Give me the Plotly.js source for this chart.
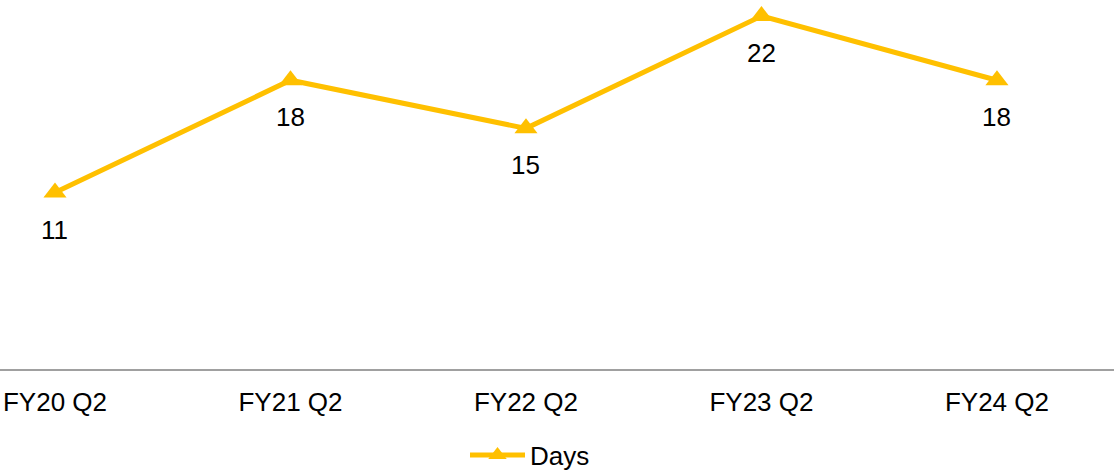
<!DOCTYPE html>
<html>
<head>
<meta charset="utf-8">
<script src="https://cdn.plot.ly/plotly-3.0.1.min.js"></script>
<style>html,body{margin:0;padding:0;background:#fff;}#chart{width:1114px;height:471px;}</style>
</head>
<body>
<div id="chart"></div>
<script>
const categories = ["FY20 Q2", "FY21 Q2", "FY22 Q2", "FY23 Q2", "FY24 Q2"];
const days = [11, 18, 15, 22, 18];
const seriesName = "Days";

const gold = "#FFC000";
const fontFam = "'Liberation Sans', Arial, sans-serif";

const trace = {
  x: categories,
  y: days,
  name: seriesName,
  type: "scatter",
  mode: "lines+markers",
  line: {color: gold, width: 5},
  marker: {symbol: "triangle-up", size: 20, color: gold},
  hoverinfo: "skip"
};

const annotations = categories.map((c, i) => ({
  x: c, y: days[i], xref: "x", yref: "y",
  text: String(days[i]), showarrow: false,
  yshift: -37, font: {family: fontFam, size: 26, color: "#000"}
}));

const layout = {
  width: 1114, height: 471,
  margin: {l: 0, r: 0, t: 0, b: 102, pad: 0, autoexpand: false},
  paper_bgcolor: "#fff", plot_bgcolor: "#fff",
  font: {family: fontFam, size: 26, color: "#000"},
  xaxis: {
    type: "category",
    range: [-0.2335, 4.497],
    automargin: false,
    showline: true, linecolor: "#A0A0A0", linewidth: 2,
    showgrid: false, zeroline: false,
    ticks: "outside", ticklen: 9, tickcolor: "rgba(0,0,0,0)",
    tickfont: {family: fontFam, size: 26, color: "#000"}
  },
  yaxis: {
    range: [0, 23], visible: false, showgrid: false, zeroline: false, automargin: false
  },
  showlegend: true,
  legend: {
    orientation: "h", x: 465 / 1114, xanchor: "left", y: -0.233, yanchor: "middle",
    itemwidth: 55, font: {family: fontFam, size: 26, color: "#000"},
    bgcolor: "rgba(0,0,0,0)"
  },
  annotations: annotations
};

Plotly.newPlot("chart", [trace], layout, {displayModeBar: false, staticPlot: true});
</script>
</body>
</html>
